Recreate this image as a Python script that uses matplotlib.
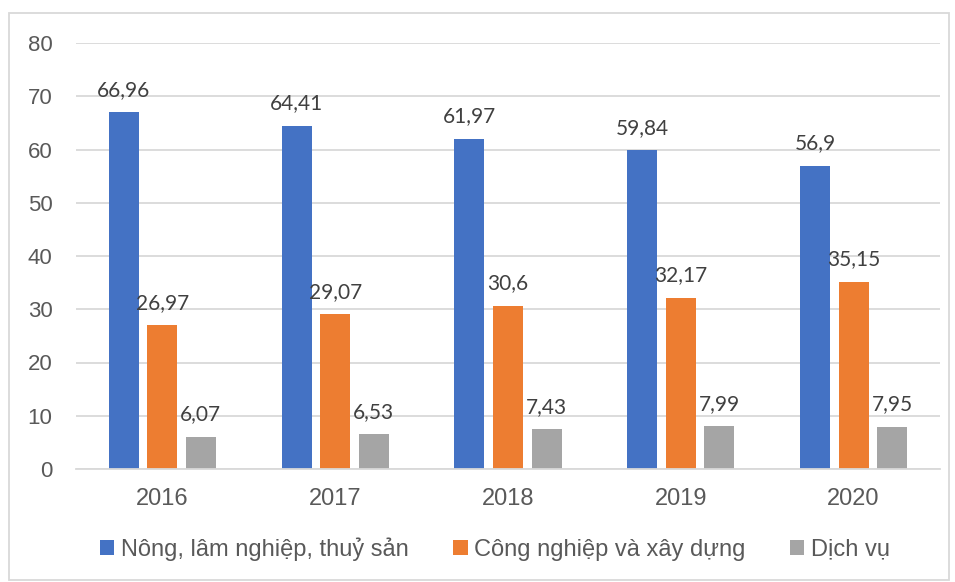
import matplotlib
matplotlib.use("Agg")
import matplotlib.pyplot as plt
from matplotlib.patches import Rectangle, Patch
import numpy as np

years = ["2016", "2017", "2018", "2019", "2020"]
series_names = ["Nông, lâm nghiệp, thuỷ sản", "Công nghiệp và xây dựng", "Dịch vụ"]
nong_lam = [66.96, 64.41, 61.97, 59.84, 56.9]
cong_nghiep = [26.97, 29.07, 30.6, 32.17, 35.15]
dich_vu = [6.07, 6.53, 7.43, 7.99, 7.95]
labels_nong = ["66,96", "64,41", "61,97", "59,84", "56,9"]
labels_cong = ["26,97", "29,07", "30,6", "32,17", "35,15"]
labels_dich = ["6,07", "6,53", "7,43", "7,99", "7,95"]
yticks = [0, 10, 20, 30, 40, 50, 60, 70, 80]

colors = ["#4472C4", "#ED7D31", "#A5A5A5"]

W, H = 955, 582
fig = plt.figure(figsize=(W / 100, H / 100), dpi=100)
ax = fig.add_axes([76 / W, (H - 469) / H, (940 - 76) / W, (469 - 43) / H])

x = np.arange(len(years))
offsets = [-0.223, 0.0, 0.223]
width = 0.174
for vals, labs, off, c in zip([nong_lam, cong_nghiep, dich_vu],
                              [labels_nong, labels_cong, labels_dich], offsets, colors):
    bars = ax.bar(x + off, vals, width=width, color=c, zorder=3)
    for b, lab in zip(bars, labs):
        ax.annotate(lab, (b.get_x() + b.get_width() / 2, b.get_height()),
                    xytext=(0, 9), textcoords="offset points", ha="center", va="bottom",
                    fontsize=15, color="#404040", family=["Lato", "DejaVu Sans"], zorder=4)

ax.set_xlim(-0.5, len(years) - 0.5)
ax.set_ylim(0, 80)
ax.set_yticks(yticks)
ax.set_xticks(x)
ax.set_xticklabels(years)
ax.grid(axis="y", color="#D9D9D9", linewidth=1.3, zorder=0)
for s in ["top", "right", "left"]:
    ax.spines[s].set_visible(False)
ax.spines["bottom"].set_color("#D9D9D9")
ax.spines["bottom"].set_linewidth(1.3)
ax.spines["bottom"].set_zorder(5)
ax.tick_params(axis="both", length=0, colors="#595959")
ax.tick_params(axis="x", pad=14, labelsize=17)
ax.tick_params(axis="y", pad=17, labelsize=16)
for t in ax.get_xticklabels() + ax.get_yticklabels():
    t.set_family(["Liberation Sans", "DejaVu Sans"])

handles = [Patch(facecolor=c, edgecolor="none") for c in colors]
leg = fig.legend(handles, series_names, loc="center", bbox_to_anchor=(495 / W, 1 - 549 / H),
                 ncol=3, frameon=False, prop={"family": ["Liberation Sans", "DejaVu Sans"], "size": 17},
                 handlelength=0.6, handleheight=0.6, handletextpad=0.27, columnspacing=1.9)
for t in leg.get_texts():
    t.set_color("#595959")

fig.patches.append(Rectangle((9 / W, 1 - 580 / H), (949 - 9) / W, (580 - 13) / H,
                             transform=fig.transFigure, fill=False, edgecolor="#D9D9D9",
                             linewidth=1.3))

fig.savefig("out.png", dpi=100, facecolor="white")
